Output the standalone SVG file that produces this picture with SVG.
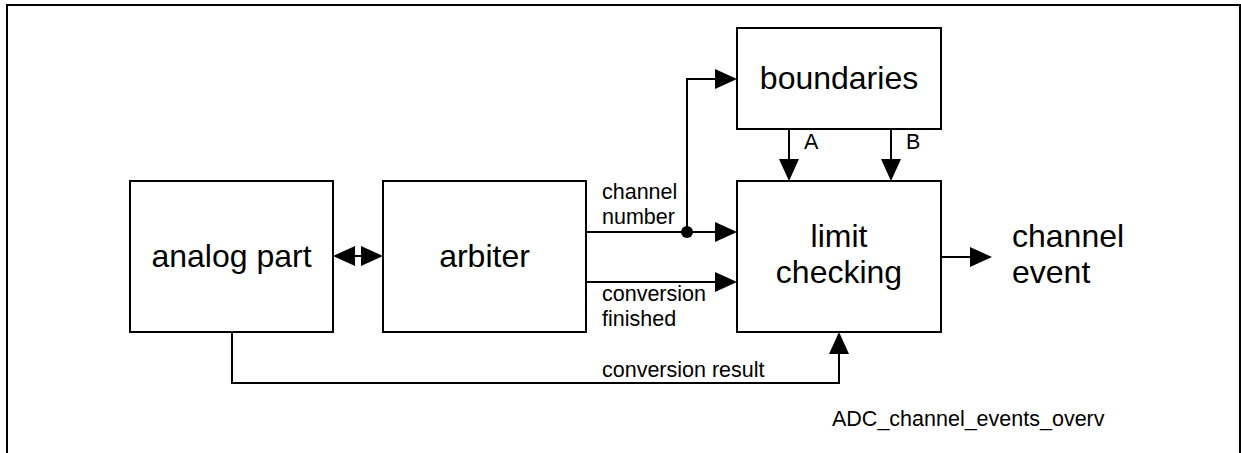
<svg xmlns="http://www.w3.org/2000/svg" width="1241" height="453" viewBox="0 0 1241 453">
<style>
.box{fill:#fff;stroke:#000;stroke-width:2}
.ln{fill:none;stroke:#000;stroke-width:2}
.big{font-family:"Liberation Sans",Arial,sans-serif;font-size:32px;fill:#000}
.sm{font-family:"Liberation Sans",Arial,sans-serif;font-size:21.5px;fill:#000}
.mid{text-anchor:middle}
</style>
<defs>
<marker id="arr" markerUnits="userSpaceOnUse" markerWidth="22" markerHeight="20" refX="12" refY="10" orient="auto-start-reverse" viewBox="0 0 22 20">
<path d="M0,0 L22,10 L0,20 Z" fill="#000"/>
</marker>
</defs>
<rect x="7" y="5" width="1233" height="460" fill="#fff" stroke="#000" stroke-width="2"/>
<g id="connectors">
<path class="ln" d="M343,256 H373" marker-start="url(#arr)" marker-end="url(#arr)"/>
<path class="ln" d="M586,232 H727" marker-end="url(#arr)"/>
<path class="ln" d="M687,232 V79 H727" marker-end="url(#arr)"/>
<circle cx="687" cy="232" r="6" fill="#000"/>
<path class="ln" d="M586,282 H727" marker-end="url(#arr)"/>
<path class="ln" d="M232,332 V383 H839 V342" marker-end="url(#arr)"/>
<path class="ln" d="M789,129 V171" marker-end="url(#arr)"/>
<path class="ln" d="M891,129 V171" marker-end="url(#arr)"/>
<path class="ln" d="M941,257 H982" marker-end="url(#arr)"/>
<text class="sm" x="602" y="199">channel</text>
<text class="sm" x="602" y="224">number</text>
<text class="sm" x="602" y="301">conversion</text>
<text class="sm" x="602" y="326">finished</text>
<text class="sm" x="602" y="377">conversion result</text>
<text class="sm" x="804" y="149">A</text>
<text class="sm" x="906" y="149">B</text>
</g>
<g id="analog">
<rect class="box" x="130" y="181" width="203" height="151"/>
<text class="big mid" x="231.5" y="267">analog part</text>
</g>
<g id="arbiter">
<rect class="box" x="383" y="181" width="203" height="151"/>
<text class="big mid" x="484.5" y="267">arbiter</text>
</g>
<g id="boundaries">
<rect class="box" x="737" y="28" width="204" height="101"/>
<text class="big mid" x="839" y="89">boundaries</text>
</g>
<g id="limit">
<rect class="box" x="737" y="181" width="204" height="151"/>
<text class="big mid" x="839" y="247">limit</text>
<text class="big mid" x="839" y="283">checking</text>
</g>
<g id="event">
<text class="big" x="1012" y="247">channel</text>
<text class="big" x="1012" y="283">event</text>
</g>
<text class="sm" x="832" y="426">ADC_channel_events_overv</text>
</svg>
